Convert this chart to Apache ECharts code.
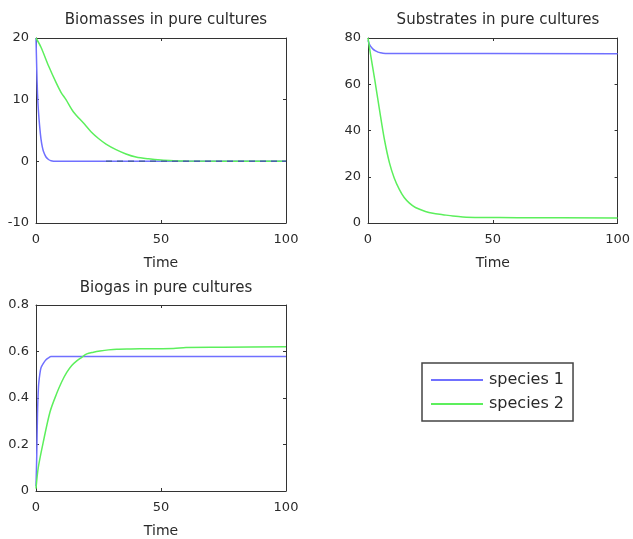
<!DOCTYPE html>
<html><head><meta charset="utf-8">
<script src="https://cdn.jsdelivr.net/npm/echarts@6/dist/echarts.min.js"></script>
<style>html,body{margin:0;padding:0;background:#fff}#c{width:633px;height:539px}</style>
</head><body><div id="c"></div>
<script>
// Biomasses
const bioT1 = [0,0.3,0.6,1,1.5,2,2.5,3,4,5,6,8,28,100];
const bioS1 = [20,15,11,8,5.5,3.6,2.4,1.6,0.7,0.3,0.1,0,0,0];
const bioT2 = [0,2,5,8,10,12,15,19,22,25,28,32,36,40,45,50,55,60,100];
const bioS2 = [20,18.5,15.5,12.8,11.2,10,8,6.2,4.8,3.7,2.8,1.9,1.2,0.7,0.4,0.2,0.1,0.05,0];
const bioDashT = [28,100];
const bioDash = [0,0];
// Substrates
const subT1 = [0,0.5,1,2,3,4,5,6,8,100];
const subS1 = [79,77.5,76.5,75.2,74.4,73.9,73.6,73.4,73.3,73.2];
const subT2 = [0,1,2.7,4.6,6.6,8.6,10.5,12.6,14.5,16.6,19,23,26,30,34,38,45,60,100];
const subS2 = [80,73,62,49,36,26,19.5,14.4,11,8.6,6.7,5,4.2,3.6,3.0,2.6,2.4,2.3,2.2];
// Biogas
const gasT1 = [0,0.3,0.6,1,1.5,2,3,4,5,6,8,100];
const gasS1 = [0.02,0.15,0.33,0.45,0.5,0.53,0.55,0.565,0.573,0.578,0.578,0.578];
const gasT2 = [0,0.9,2.9,5.6,8.3,10.3,12.3,14.3,16.3,18.3,20.3,23,25.6,29,32.3,38,45,55,60,75,100];
const gasS2 = [0.01,0.1,0.21,0.34,0.42,0.47,0.51,0.54,0.56,0.575,0.59,0.597,0.602,0.607,0.61,0.611,0.612,0.613,0.617,0.618,0.62];

const xTicks = {min:0,max:100,interval:50};
const yTicksBio = {min:-10,max:20,interval:10};
const yTicksSub = {min:0,max:80,interval:20};
const yTicksGas = {min:0,max:0.8,interval:0.2};

const names = ['species 1','species 2'];
const blue = '#7070ff', green = '#5cef5c';
const pairs = (t,v)=>t.map((x,i)=>[x,v[i]]);
const txt = '#2a2a2a';
const font = 'DejaVu Sans, sans-serif';

const grids = [
  {left:36, top:38, width:250, height:185},
  {left:368, top:38, width:251, height:185},
  {left:36, top:305, width:250, height:188}
];
const yRanges = [yTicksBio, yTicksSub, yTicksGas];

const xAxis = [], yAxis = [];
grids.forEach((g,i)=>{
  xAxis.push({type:'value', gridIndex:i, position:'bottom', min:xTicks.min, max:xTicks.max, interval:xTicks.interval,
    name:'Time', nameLocation:'middle', nameGap:33, nameTextStyle:{color:txt,fontSize:14,fontFamily:font},
    axisLine:{show:true,onZero:false,lineStyle:{color:'#333',width:1}},
    axisTick:{show:true,inside:true,length:3,lineStyle:{color:'#333'}},
    axisLabel:{color:txt,fontSize:13,fontFamily:font,margin:10,showMaxLabel:true},
    splitLine:{show:false}});
  xAxis.push({type:'value', gridIndex:i, position:'top', min:xTicks.min, max:xTicks.max, interval:xTicks.interval,
    axisLine:{show:true,onZero:false,lineStyle:{color:'#333',width:1}},
    axisTick:{show:true,inside:true,length:3,lineStyle:{color:'#333'}},
    axisLabel:{show:false}, splitLine:{show:false}});
  const r = yRanges[i];
  yAxis.push({type:'value', gridIndex:i, position:'left', min:r.min, max:r.max, interval:r.interval,
    axisLine:{show:true,onZero:false,lineStyle:{color:'#333',width:1}},
    axisTick:{show:true,inside:true,length:3,lineStyle:{color:'#333'}},
    axisLabel:{color:txt,fontSize:13,fontFamily:font,margin:7},
    splitLine:{show:false}});
  yAxis.push({type:'value', gridIndex:i, position:'right', min:r.min, max:r.max, interval:r.interval,
    axisLine:{show:true,onZero:false,lineStyle:{color:'#333',width:1}},
    axisTick:{show:true,inside:true,length:3,lineStyle:{color:'#333'}},
    axisLabel:{show:false}, splitLine:{show:false}});
});

function line(name,color,data,gi,extra){
  return Object.assign({type:'line', name:name, data:data, xAxisIndex:gi*2, yAxisIndex:gi*2,
    symbol:'none', smooth:0.3, lineStyle:{color:color,width:1.5}, itemStyle:{color:color}, animation:false, z:3}, extra||{});
}

const series = [
  line(names[0],blue,pairs(bioT1,bioS1),0),
  line(names[1],green,pairs(bioT2,bioS2),0),
  line('',"#3a5a9a",pairs(bioDashT,bioDash),0,{smooth:false,lineStyle:{color:'#4a62a8',width:1.5,type:[6,5]},z:4}),
  line(names[0],blue,pairs(subT1,subS1),1),
  line(names[1],green,pairs(subT2,subS2),1),
  line(names[0],blue,pairs(gasT1,gasS1),2),
  line(names[1],green,pairs(gasT2,gasS2),2)
];

const chart = echarts.init(document.getElementById('c'),null,{renderer:'canvas'});
chart.setOption({
  backgroundColor:'#fff',
  animation:false,
  title:[
    {text:'Biomasses in pure cultures', left:161, top:8, textAlign:'center', textStyle:{color:txt,fontSize:15,fontWeight:'normal',fontFamily:font}},
    {text:'Substrates in pure cultures', left:493, top:8, textAlign:'center', textStyle:{color:txt,fontSize:15,fontWeight:'normal',fontFamily:font}},
    {text:'Biogas in pure cultures', left:161, top:276, textAlign:'center', textStyle:{color:txt,fontSize:15,fontWeight:'normal',fontFamily:font}}
  ],
  grid:grids.map(g=>Object.assign({show:false},g)),
  xAxis:xAxis, yAxis:yAxis,
  legend:{data:names, orient:'vertical', left:422, top:363, padding:[9,9,9,9], itemGap:8,
    icon:'rect', itemWidth:52, itemHeight:2, borderColor:'#444', borderWidth:1.5, backgroundColor:'#fff',
    textStyle:{color:txt,fontSize:16,fontFamily:font,padding:[0,0,0,1]}, selectedMode:false},
  series:series
});
</script></body></html>
